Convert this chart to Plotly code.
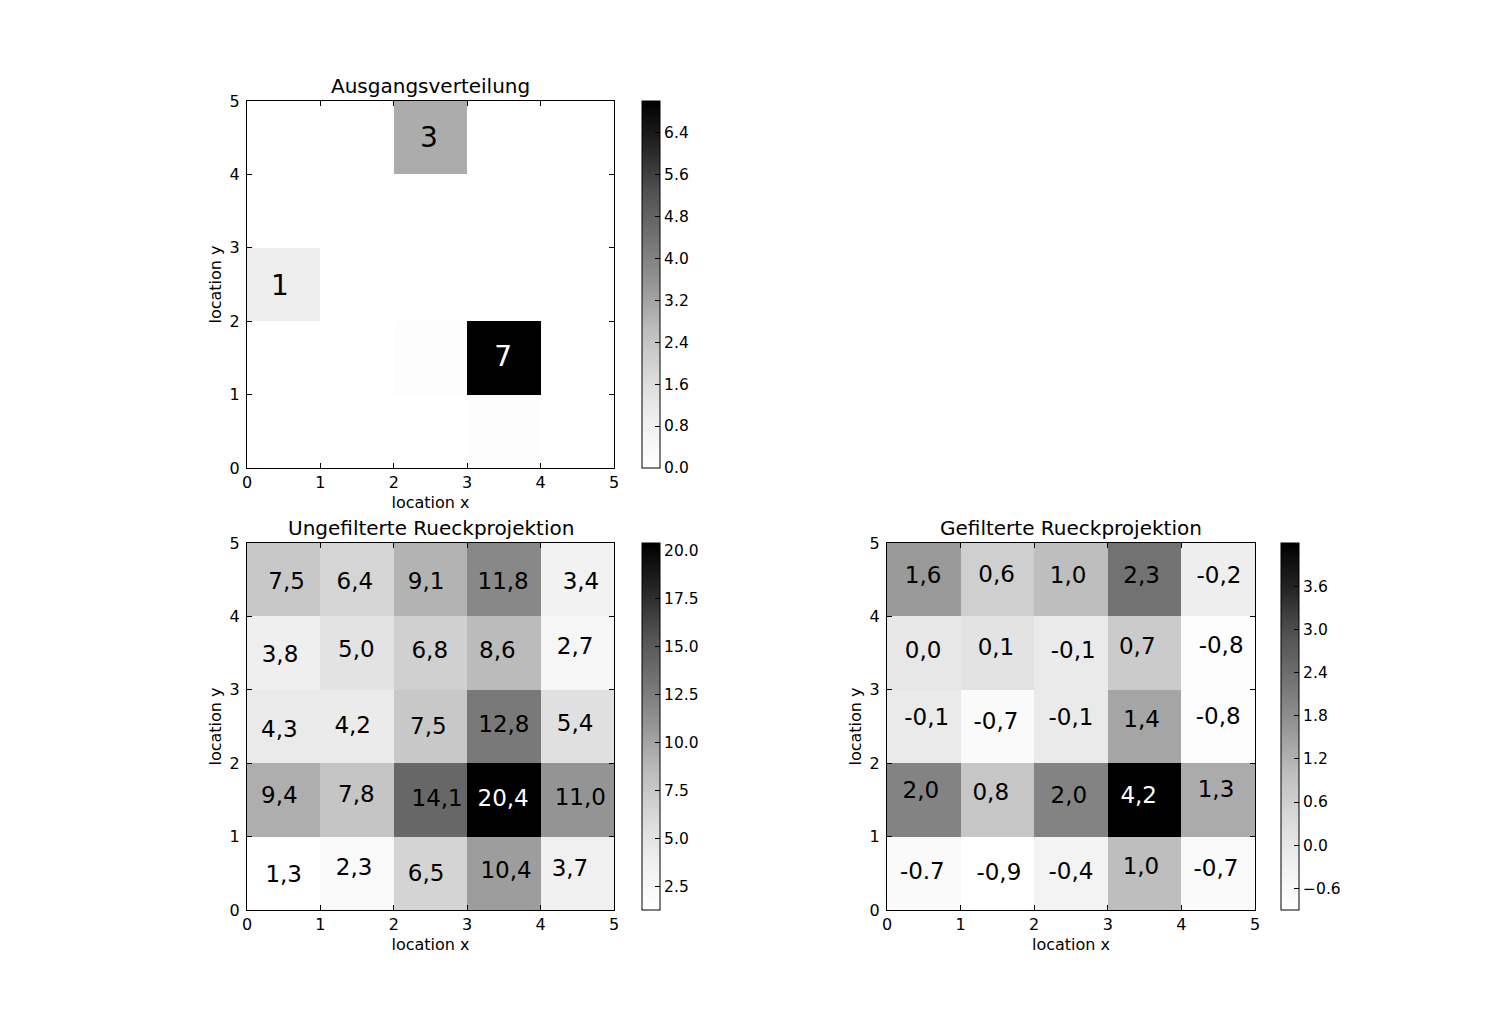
import plotly.graph_objects as go

FONT = "DejaVu Sans"

# ---------------- data ----------------
cells = [0.5, 1.5, 2.5, 3.5, 4.5]
tick_vals = [0, 1, 2, 3, 4, 5]

# rows listed from top (y=4) to bottom (y=0)
orig_rows = [
    [0.0, 0.0, 3.0, 0.0, 0.0],
    [0.0, 0.0, 0.0, 0.0, 0.0],
    [1.0, 0.0, 0.0, 0.0, 0.0],
    [0.0, 0.0, 0.1, 7.0, 0.0],
    [0.0, 0.0, 0.0, 0.1, 0.0],
]
orig_labels = ["3", "1", "7"]
orig_label_x = [2.48, 0.45, 3.49]
orig_label_y = [4.47, 2.45, 1.49]

unfilt_rows = [
    [7.5, 6.4, 9.1, 11.8, 3.4],
    [3.8, 5.0, 6.8, 8.6, 2.7],
    [4.3, 4.2, 7.5, 12.8, 5.4],
    [9.4, 7.8, 14.1, 20.4, 11.0],
    [1.3, 2.3, 6.5, 10.4, 3.7],
]
unfilt_labels = [
    "7,5", "6,4", "9,1", "11,8", "3,4",
    "3,8", "5,0", "6,8", "8,6", "2,7",
    "4,3", "4,2", "7,5", "12,8", "5,4",
    "9,4", "7,8", "14,1", "20,4", "11,0",
    "1,3", "2,3", "6,5", "10,4", "3,7",
]
unfilt_label_x = [
    0.54, 1.47, 2.44, 3.49, 4.55,
    0.45, 1.49, 2.49, 3.41, 4.47,
    0.44, 1.44, 2.47, 3.50, 4.47,
    0.44, 1.49, 2.59, 3.49, 4.54,
    0.50, 1.46, 2.44, 3.53, 4.40,
]
unfilt_label_y = [
    4.45, 4.45, 4.45, 4.45, 4.45,
    3.46, 3.53, 3.51, 3.51, 3.57,
    2.44, 2.49, 2.48, 2.51, 2.52,
    1.54, 1.55, 1.49, 1.50, 1.51,
    0.46, 0.56, 0.48, 0.52, 0.54,
]

filt_rows = [
    [1.6, 0.6, 1.0, 2.3, -0.2],
    [0.0, 0.1, -0.1, 0.7, -0.8],
    [-0.1, -0.7, -0.1, 1.4, -0.8],
    [2.0, 0.8, 2.0, 4.2, 1.3],
    [-0.7, -0.9, -0.4, 1.0, -0.7],
]
filt_labels = [
    "1,6", "0,6", "1,0", "2,3", "-0,2",
    "0,0", "0,1", "-0,1", "0,7", "-0,8",
    "-0,1", "-0,7", "-0,1", "1,4", "-0,8",
    "2,0", "0,8", "2,0", "4,2", "1,3",
    "-0.7", "-0,9", "-0,4", "1,0", "-0,7",
]
filt_label_x = [
    0.49, 1.49, 2.46, 3.46, 4.51,
    0.49, 1.48, 2.53, 3.40, 4.54,
    0.54, 1.48, 2.50, 3.46, 4.50,
    0.46, 1.41, 2.47, 3.42, 4.47,
    0.48, 1.52, 2.50, 3.45, 4.47,
]
filt_label_y = [
    4.54, 4.55, 4.54, 4.54, 4.54,
    3.51, 3.55, 3.51, 3.57, 3.58,
    2.60, 2.55, 2.60, 2.57, 2.61,
    1.61, 1.58, 1.53, 1.53, 1.62,
    0.50, 0.49, 0.50, 0.57, 0.54,
]

cb1_ticks = [0.0, 0.8, 1.6, 2.4, 3.2, 4.0, 4.8, 5.6, 6.4]
cb2_ticks = [2.5, 5.0, 7.5, 10.0, 12.5, 15.0, 17.5, 20.0]
cb3_ticks = [-0.6, 0.0, 0.6, 1.2, 1.8, 2.4, 3.0, 3.6]
cb3_ticktext = ["\u22120.6", "0.0", "0.6", "1.2", "1.8", "2.4", "3.0", "3.6"]

titles = ["Ausgangsverteilung", "Ungefilterte Rueckprojektion", "Gefilterte Rueckprojektion"]

# matplotlib "Greys" colormap
greys_hex = ["#ffffff", "#f0f0f0", "#d9d9d9", "#bdbdbd", "#969696",
             "#737373", "#525252", "#252525", "#000000"]
greys = [[i / (len(greys_hex) - 1), c] for i, c in enumerate(greys_hex)]

# ---------------- layout geometry ----------------
W, H = 1512, 1012
def px_x(p):
    return p / W
def px_y(p):
    return 1 - p / H

panels = [
    dict(x0=247, x1=614, y0=101, y1=468, cb=642),
    dict(x0=247, x1=614, y0=543, y1=910, cb=642),
    dict(x0=887, x1=1255, y0=543, y1=910, cb=1281),
]

fig = go.Figure()

datasets = [
    (orig_rows, 0.0, 7.0, cb1_ticks, [f"{v:.1f}" for v in cb1_ticks],
     orig_labels, orig_label_x, orig_label_y, 28, "7"),
    (unfilt_rows, 1.3, 20.4, cb2_ticks, [f"{v:.1f}" for v in cb2_ticks],
     unfilt_labels, unfilt_label_x, unfilt_label_y, 23, "20,4"),
    (filt_rows, -0.9, 4.2, cb3_ticks, cb3_ticktext,
     filt_labels, filt_label_x, filt_label_y, 23, "4,2"),
]

for i, (rows, zmin, zmax, ctv, ctt, labs, lx, ly, fsize, white_lab) in enumerate(datasets):
    p = panels[i]
    ax = "" if i == 0 else str(i + 1)
    z = list(reversed(rows))
    fig.add_trace(go.Heatmap(
        x=cells, y=cells, z=z, zmin=zmin, zmax=zmax, colorscale=greys,
        xaxis="x" + ax, yaxis="y" + ax, hoverinfo="skip",
        colorbar=dict(
            x=px_x(p["cb"]), xanchor="left", xpad=0, ypad=0,
            y=(px_y(p["y0"]) + px_y(p["y1"])) / 2, yanchor="middle",
            len=(p["y1"] - p["y0"]) / H, lenmode="fraction",
            thickness=18, thicknessmode="pixels",
            outlinewidth=1, outlinecolor="black",
            tickvals=ctv, ticktext=ctt, ticks="inside", ticklen=5,
            tickcolor="black", tickfont=dict(family=FONT, size=15.5, color="black"),
        ),
    ))
    fig.add_trace(go.Scatter(
        x=lx, y=ly, text=labs, mode="text", textposition="middle center",
        textfont=dict(family=FONT, size=fsize,
                      color=["white" if t == white_lab else "black" for t in labs]),
        xaxis="x" + ax, yaxis="y" + ax, hoverinfo="skip", showlegend=False,
    ))
    axis_common = dict(
        range=[0, 5], tickvals=tick_vals, ticks="inside", ticklen=5,
        tickcolor="black", showline=True, linecolor="black", linewidth=1,
        mirror="allticks", showgrid=False, zeroline=False, automargin=False,
        tickfont=dict(family=FONT, size=16, color="black"),
    )
    fig.layout["xaxis" + ax] = dict(
        axis_common, domain=[px_x(p["x0"]), px_x(p["x1"])], anchor="y" + ax,
        title=dict(text="location x", font=dict(family=FONT, size=16, color="black"), standoff=5),
    )
    fig.layout["yaxis" + ax] = dict(
        axis_common, domain=[px_y(p["y1"]), px_y(p["y0"])], anchor="x" + ax,
        ticklabelstandoff=3,
        title=dict(text="location y", font=dict(family=FONT, size=16, color="black"), standoff=4),
    )
    fig.add_annotation(
        text=titles[i], xref="paper", yref="paper",
        x=(px_x(p["x0"]) + px_x(p["x1"])) / 2, y=px_y(p["y0"]),
        xanchor="center", yanchor="bottom", yshift=1, showarrow=False,
        font=dict(family=FONT, size=20, color="black"),
    )

fig.update_layout(
    width=W, height=H, margin=dict(l=0, r=0, t=0, b=0, autoexpand=False),
    paper_bgcolor="white", plot_bgcolor="white", showlegend=False,
    font=dict(family=FONT, color="black"),
)

fig.write_html("out.html")
